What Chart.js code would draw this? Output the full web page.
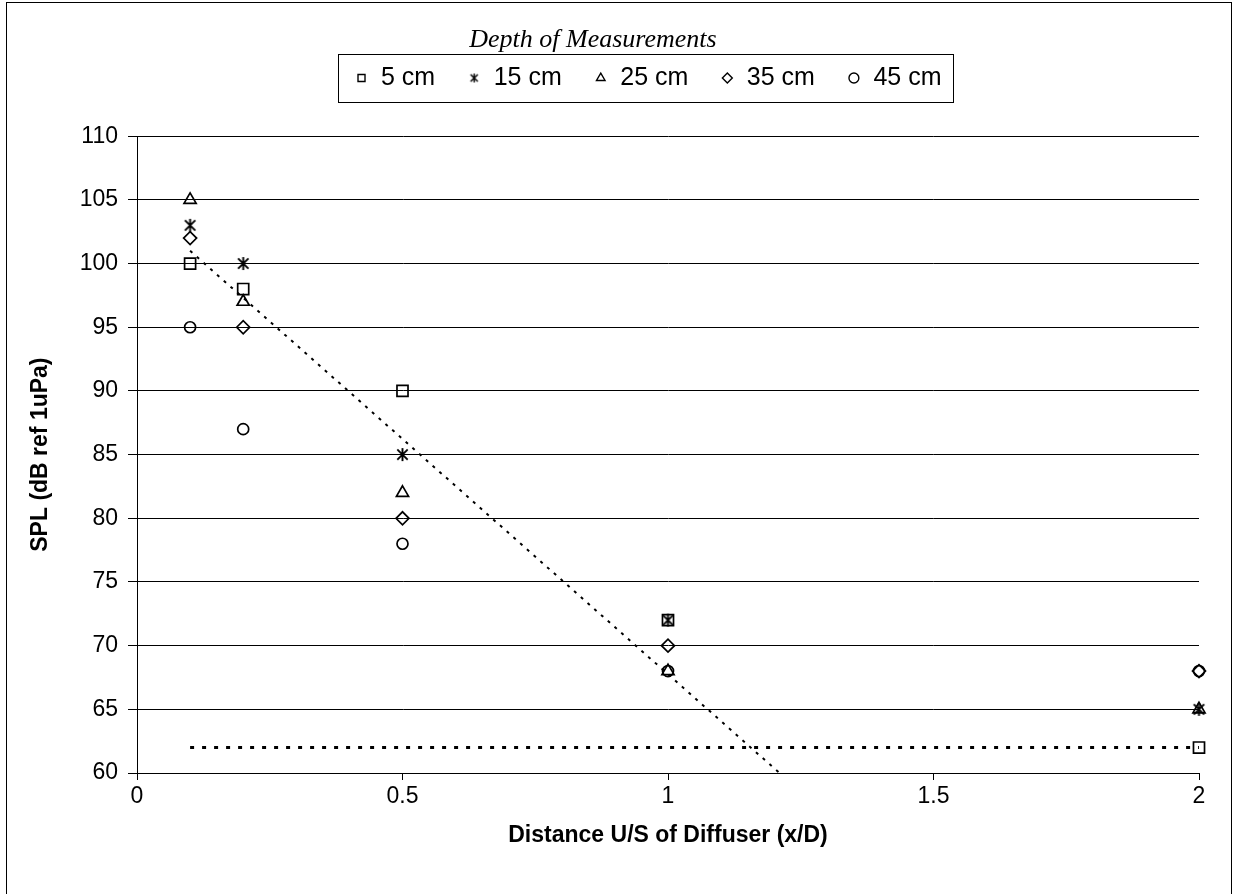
<!DOCTYPE html>
<html>
<head>
<meta charset="utf-8">
<script src="https://cdn.jsdelivr.net/npm/chart.js@4"></script>
<style>
  body { margin: 0; background: #fff; }
</style>
</head>
<body>
<canvas id="splChart" width="1235" height="894"></canvas>
<script>
// distance upstream of the diffuser (x/D)
var distances = [0.1, 0.2, 0.5, 1, 2];
var depthLabels = ['5 cm', '15 cm', '25 cm', '35 cm', '45 cm'];

// SPL readings per measurement depth (dB ref 1uPa)
var spl5cm = [100, 98, 90, 72, 62];
var spl15cm = [103, 100, 85, 72, 65];
var spl25cm = [105, 97, 82, 68, 65];
var spl35cm = [102, 95, 80, 70, 68];
var spl45cm = [95, 87, 78, 68, 68];

// decay trend and background level
var trendX = [0.1, 1.21];
var trendY = [101, 60];
var backgroundX = [0.1, 2];
var backgroundY = [62, 62];

var yTicks = [60, 110, 5];
var xTicks = [0, 2, 0.5];

function toPoints(xs, ys) {
  return xs.map(function(x, i) { return { x: x, y: ys[i] }; });
}

// six-spoke asterisk marker
function asterisk(size, lw) {
  var c = document.createElement('canvas');
  c.width = size; c.height = size;
  var g = c.getContext('2d');
  var m = size / 2, r = size / 2 - 1;
  g.strokeStyle = '#000';
  g.lineWidth = lw;
  g.beginPath();
  g.moveTo(m, m - r); g.lineTo(m, m + r);
  g.moveTo(m - r * 0.8, m - r * 0.8); g.lineTo(m + r * 0.8, m + r * 0.8);
  g.moveTo(m + r * 0.8, m - r * 0.8); g.lineTo(m - r * 0.8, m + r * 0.8);
  g.stroke();
  return c;
}
var bigStar = asterisk(15, 1.9);
var smallStar = asterisk(11, 1.4);

var sans = "'Liberation Sans', Arial, sans-serif";

function markerSet(label, values, style, radius) {
  return {
    type: 'scatter',
    label: label,
    data: toPoints(distances, values),
    pointStyle: style,
    pointRadius: radius,
    pointHoverRadius: radius,
    backgroundColor: 'rgba(0,0,0,0)',
    borderColor: '#000',
    borderWidth: 1.7,
    clip: false
  };
}

var frame = {
  id: 'frame',
  beforeDraw: function(chart) {
    var ctx = chart.ctx;
    ctx.save();
    ctx.fillStyle = '#fff';
    ctx.fillRect(0, 0, chart.width, chart.height);
    ctx.strokeStyle = '#000';
    ctx.lineWidth = 1;
    ctx.strokeRect(6.5, 2.5, 1225, 900);
    ctx.restore();
  },
  afterLayout: function(chart) {
    // heading sits a little left of the legend row
    var tb = chart.titleBlock;
    var tw = tb.right - tb.left, th = tb.bottom - tb.top;
    tb.left = 593 - tw / 2; tb.right = tb.left + tw;
    tb.top = 40 - th / 2; tb.bottom = tb.top + th;

    var lg = chart.legend;
    var dx = 648 - (lg.left + lg.right) / 2;
    lg.left += dx; lg.right += dx;
    var h = lg.bottom - lg.top;
    lg.top = 33.5; lg.bottom = lg.top + h;
  },
  afterDraw: function(chart) {
    var boxes = chart.legend.legendHitBoxes;
    if (!boxes.length) return;
    var l = Math.min.apply(null, boxes.map(function(b) { return b.left; }));
    var r = Math.max.apply(null, boxes.map(function(b) { return b.left + b.width; }));
    var t = boxes[0].top, b = t + boxes[0].height;
    var ctx = chart.ctx;
    ctx.save();
    ctx.strokeStyle = '#000';
    ctx.lineWidth = 1;
    ctx.strokeRect(Math.round(l - 17) + 0.5, Math.round(t - 11.5) + 0.5,
      Math.round(r - l + 28.5), Math.round(b - t + 23));
    ctx.restore();
  }
};

new Chart(document.getElementById('splChart'), {
  type: 'scatter',
  data: {
    datasets: [
      markerSet(depthLabels[0], spl5cm, 'rect', 7.8),
      markerSet(depthLabels[1], spl15cm, bigStar, 7),
      markerSet(depthLabels[2], spl25cm, 'triangle', 7),
      markerSet(depthLabels[3], spl35cm, 'rectRot', 6.5),
      markerSet(depthLabels[4], spl45cm, 'circle', 5.5),
      {
        type: 'line',
        label: 'trend',
        data: toPoints(trendX, trendY),
        borderColor: '#000',
        borderWidth: 2,
        borderDash: [3, 6],
        pointRadius: 0,
        fill: false
      },
      {
        type: 'line',
        label: 'background',
        data: toPoints(backgroundX, backgroundY),
        borderColor: '#000',
        borderWidth: 3,
        borderDash: [4, 8],
        pointRadius: 0,
        fill: false
      }
    ]
  },
  options: {
    responsive: false,
    animation: false,
    layout: { padding: { left: 0, right: 36, top: 18, bottom: 0 } },
    plugins: {
      tooltip: { enabled: false },
      title: {
        display: true,
        text: 'Depth of Measurements',
        color: '#000',
        font: { family: "'Liberation Serif', 'Times New Roman', serif", size: 26, style: 'italic', weight: 'normal' },
        padding: { top: 10, bottom: 10 }
      },
      legend: {
        position: 'top',
        labels: {
          color: '#000',
          font: { family: sans, size: 25 },
          usePointStyle: true,
          boxWidth: 14,
          boxHeight: 7,
          padding: 32,
          filter: function(item) { return item.datasetIndex < 5; },
          generateLabels: function(chart) {
            var items = Chart.defaults.plugins.legend.labels.generateLabels(chart);
            items.forEach(function(it) {
              if (it.datasetIndex === 1) it.pointStyle = smallStar;
              it.lineWidth = 1.4;
            });
            return items;
          }
        }
      }
    },
    scales: {
      x: {
        type: 'linear',
        min: xTicks[0],
        max: xTicks[1],
        ticks: {
          stepSize: xTicks[2], color: '#000', font: { family: sans, size: 23 }, padding: 3,
          callback: function(v) { return String(v); }
        },
        grid: { drawOnChartArea: false, drawTicks: true, tickLength: 7, color: '#000' },
        border: { display: true, color: '#000', width: 1 },
        title: {
          display: true,
          text: 'Distance U/S of Diffuser (x/D)',
          color: '#000',
          font: { family: sans, size: 23, weight: 'bold' },
          padding: { top: 0, bottom: 45 }
        },
        afterFit: function(s) { s.height = 121; }
      },
      y: {
        min: yTicks[0],
        max: yTicks[1],
        ticks: { stepSize: yTicks[2], color: '#000', font: { family: sans, size: 23 }, padding: 10 },
        grid: { color: '#000', lineWidth: 1, tickLength: 9 },
        border: { display: true, color: '#000', width: 1 },
        title: {
          display: true,
          text: 'SPL (dB ref 1uPa)',
          color: '#000',
          font: { family: sans, size: 23, weight: 'bold' },
          padding: { top: 27, bottom: 0 }
        },
        afterFit: function(s) { s.width = 137; }
      }
    }
  },
  plugins: [frame]
});
</script>
</body>
</html>
